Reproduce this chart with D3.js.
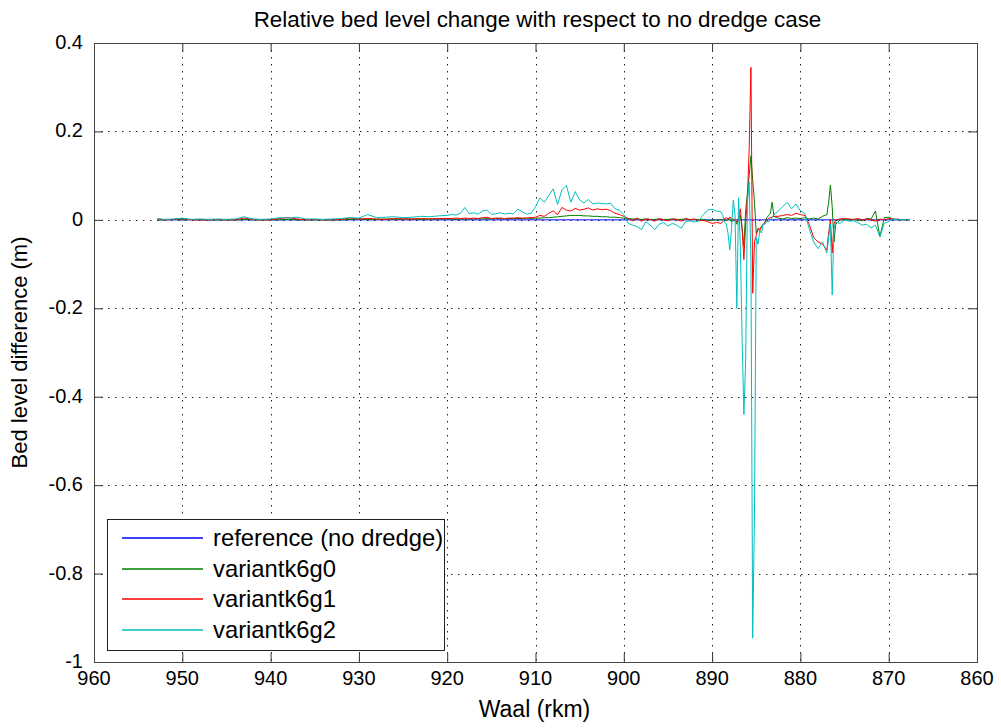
<!DOCTYPE html>
<html>
<head>
<meta charset="utf-8">
<script src="https://cdn.jsdelivr.net/npm/d3@7"></script>
<style>
    body { margin: 0; background: #fff; }
    svg text { font-family: "Liberation Sans", Arial, sans-serif; fill: #000; }
</style>
</head>
<body>
<div id="chart"></div>
<script>
// river km (Waal), shared by all series
var km = [
    952.8, 952, 951, 950, 949, 948, 947, 946, 945, 944, 943, 942, 941, 940, 939, 938, 937, 936, 935, 934,
    933, 932, 931, 930, 929, 928, 927, 926, 925, 924, 923, 922, 921,
    920, 919.5, 919, 918.5, 918, 917.5, 917, 916.5, 916, 915.5,
    915, 914.5, 914, 913.5, 913, 912.5, 912, 911.5, 911, 910.5,
    910, 909.5, 909, 908.5, 908, 907.5, 907, 906.5, 906, 905.5,
    905, 904.5, 904, 903.5, 903, 902.5, 902, 901.5, 901, 900.5,
    900, 899.5, 899, 898.5, 898, 897.5, 897, 896.5, 896, 895.5,
    895, 894.5, 894, 893.5, 893, 892.5, 892, 891.5, 891, 890.5,
    890, 889.5,
    889, 888.8, 888.6, 888.4, 888.2, 888, 887.8, 887.6, 887.4, 887.2,
    887, 886.8, 886.6, 886.4, 886.2, 886, 885.8, 885.6, 885.4, 885.2,
    885, 884.8, 884.6, 884.4, 884.2, 884, 883.8, 883.6, 883.4, 883.2, 883,
    882.5, 882, 881.5, 881, 880.5, 880, 879.5, 879, 878.5, 878,
    877.5, 877, 876.8, 876.6, 876.4, 876.2, 876, 875.5, 875, 874.5,
    874, 873.5, 873, 872.5, 872, 871.5, 871, 870.5, 870, 869.5,
    869, 868.5, 868, 867.6
];

var refValues = [
    0, 0, 0, 0, 0, 0, 0, 0, 0, 0, 0, 0, 0, 0, 0, 0, 0, 0, 0, 0,
    0, 0, 0, 0, 0, 0, 0, 0, 0, 0, 0, 0, 0, 0, 0, 0, 0, 0, 0, 0,
    0, 0, 0, 0, 0, 0, 0, 0, 0, 0, 0, 0, 0, 0, 0, 0, 0, 0, 0, 0,
    0, 0, 0, 0, 0, 0, 0, 0, 0, 0, 0, 0, 0, 0, 0, 0, 0, 0, 0, 0,
    0, 0, 0, 0, 0, 0, 0, 0, 0, 0, 0, 0, 0, 0, 0, 0, 0, 0, 0, 0,
    0, 0, 0, 0, 0, 0, 0, 0, 0, 0, 0, 0, 0, 0, 0, 0, 0, 0, 0, 0,
    0, 0, 0, 0, 0, 0, 0, 0, 0, 0, 0, 0, 0, 0, 0, 0, 0, 0, 0, 0,
    0, 0, 0, 0, 0, 0, 0, 0, 0, 0, 0, 0, 0, 0, 0, 0, 0, 0, 0, 0
];

var k6g0Values = [
    0, 0, 0.001, 0, 0.001, 0, 0, 0, 0, 0, 0.001, 0, 0, 0, 0, 0.001, 0, 0, 0, 0,
    0, 0, 0.001, 0.002, 0.001, 0.001, 0.002, 0.001, 0.002, 0.002, 0.001, 0.002, 0.002,
    0.002, 0.002, 0.001, 0.002, 0.002, 0.002, 0.002, 0.003, 0.002, 0.003,
    0.002, 0.003, 0.003, 0.002, 0.003, 0.003, 0.003, 0.003, 0.004, 0.003,
    0.004, 0.004, 0.005, 0.005, 0.006, 0.007, 0.008, 0.009, 0.01, 0.01,
    0.01, 0.009, 0.009, 0.008, 0.008, 0.007, 0.007, 0.006, 0.006, 0.005,
    0.004, 0.003, 0.002, 0.002, 0.001, 0.002, 0.001, 0.001, 0.002, 0.001,
    0.001, 0.002, 0.001, 0.001, 0.002, 0.001, 0.001, 0.001, 0, -0.001,
    -0.001, 0,
    0, 0, 0.002, -0.002, 0, 0.003, -0.005, 0.002, 0, -0.01,
    0.005, 0.01, -0.02, -0.06, 0.02, 0.06, 0.1, 0.145, 0.09, 0.04,
    -0.03, -0.02, -0.02, -0.015, -0.01, -0.005, 0.005, 0.01, 0.015, 0.04, 0.008,
    0.004, 0.002, 0.005, 0.003, 0.004, 0.003, 0.005, 0.002, 0.004, 0.002,
    0.008, 0.012, 0.04, 0.079, 0.03, -0.05, -0.01, 0, 0.001, 0,
    0.001, 0, -0.002, 0.003, 0.002, 0.02, -0.038, 0.005, 0.006, 0.002,
    0, 0.001, 0, 0
];

var k6g1Values = [
    0.002, 0, 0.001, 0.003, 0, 0, 0, 0.001, 0, 0, 0.004, 0.001, 0, 0, 0.003, 0.005, 0.002, 0, 0.001, 0,
    0, 0.001, 0.004, 0.002, 0.003, 0.002, 0.001, 0.003, 0.002, 0.002, 0.003, 0.002, 0.003,
    0.003, 0.003, 0.004, 0.003, 0.004, 0.003, 0.004, 0.003, 0.005, 0.006,
    0.003, 0.004, 0.004, 0.003, 0.004, 0.004, 0.005, 0.004, 0.004, 0.005,
    0.006, 0.01, 0.008, 0.015, 0.02, 0.012, 0.028, 0.022, 0.02, 0.026,
    0.022, 0.024, 0.027, 0.022, 0.025, 0.023, 0.024, 0.021, 0.015, 0.012,
    0.008, 0.003, -0.002, 0.004, -0.003, 0.002, 0.001, -0.003, 0.003, 0,
    -0.002, 0.002, 0.001, -0.003, 0.003, 0, 0.002, -0.002, -0.001, -0.004,
    -0.008, -0.006,
    -0.008, -0.004, 0.003, 0.005, 0.002, 0.006, 0.004, -0.003, 0.002, -0.005,
    0.002, 0.025, -0.02, -0.09, -0.01, 0.05, 0.16, 0.345, -0.166, -0.05,
    -0.035, -0.02, -0.025, -0.015, -0.01, -0.005, 0, 0.003, 0.005, 0.006, 0.008,
    0.008, 0.01, 0.012, 0.01, 0.015, 0.012, 0.01, -0.01, -0.04, -0.05,
    -0.055, -0.068, -0.03, 0, -0.075, -0.01, 0, 0.002, 0.003, 0.002,
    0.001, 0.003, 0, 0.002, 0, -0.003, 0.002, 0, 0.003, 0.001,
    0.002, 0, 0.001, 0
];

var k6g2Values = [
    0.003, 0.001, 0.002, 0.004, 0.001, 0.002, 0.001, 0.002, 0.001, 0.002, 0.007, 0.002, 0.001, 0.002, 0.005, 0.004, 0.006, 0.002, 0.002, 0.001,
    0.002, 0.003, 0.005, 0.004, 0.012, 0.005, 0.006, 0.007, 0.005, 0.006, 0.008, 0.007, 0.009,
    0.01, 0.012, 0.011, 0.015, 0.028, 0.014, 0.016, 0.013, 0.02, 0.022,
    0.012, 0.014, 0.016, 0.013, 0.015, 0.014, 0.024, 0.018, 0.013, 0.015,
    0.03, 0.05, 0.04, 0.055, 0.07, 0.035, 0.068, 0.078, 0.04, 0.064,
    0.045, 0.038, 0.046, 0.036, 0.038, 0.037, 0.036, 0.038, 0.025, 0.022,
    0.012, -0.008, -0.012, -0.015, -0.022, -0.004, -0.012, -0.022, -0.01, -0.006,
    -0.014, -0.008, -0.012, -0.019, -0.004, -0.002, -0.005, -0.002, 0.012, 0.022,
    0.024, 0.02,
    0.018, 0.01, -0.005, -0.01, -0.03, -0.068, -0.02, 0.045, 0.01, -0.2,
    0.05, -0.06, -0.27, -0.44, -0.32, 0.04, 0.085, -0.1, -0.946, -0.665,
    -0.04, -0.055, -0.025, -0.03, -0.008, -0.01, -0.003, -0.005, 0, 0.005, 0.012,
    0.02, 0.03, 0.04, 0.025, 0.036, 0.02, 0.015, -0.02, -0.05, -0.065,
    -0.05, -0.075, -0.04, -0.01, -0.17, -0.02, -0.005, -0.008, 0, -0.003,
    -0.002, -0.006, -0.012, -0.01, -0.018, -0.012, -0.038, -0.008, -0.004, 0.002,
    0, 0.001, 0, 0.001
];

var seriesNames = ["reference (no dredge)", "variantk6g0", "variantk6g1", "variantk6g2"];
var seriesColors = ["#0000ff", "#008000", "#ff0000", "#00bfbf"];
var xTicks = [960, 950, 940, 930, 920, 910, 900, 890, 880, 870, 860];
var yTicks = [-1, -0.8, -0.6, -0.4, -0.2, 0, 0.2, 0.4];

( function(d3) {
    var width = 1001,
        height = 728,
        margin = { top: 43, right: 24, bottom: 66, left: 94 };

    var svg = d3.select("#chart").append("svg")
        .attr("width", width)
        .attr("height", height);

    var x = d3.scaleLinear().domain([960, 860]).range([margin.left, width - margin.right]),
        y = d3.scaleLinear().domain([-1, 0.4]).range([height - margin.bottom, margin.top]);

    var x0 = x.range()[0], x1 = x.range()[1],
        y0 = y.range()[0], y1 = y.range()[1];

    // dotted grid
    var grid = svg.append("g").attr("class", "grid");
    grid.selectAll("line.gx")
        .data(xTicks.slice(1, -1))
        .enter().append("line")
        .attr("x1", function(d) { return Math.round(x(d)) + 0.5; })
        .attr("x2", function(d) { return Math.round(x(d)) + 0.5; })
        .attr("y1", y1).attr("y2", y0);
    grid.selectAll("line.gy")
        .data(yTicks.slice(1, -1))
        .enter().append("line")
        .attr("y1", function(d) { return Math.round(y(d)) + 0.5; })
        .attr("y2", function(d) { return Math.round(y(d)) + 0.5; })
        .attr("x1", x0).attr("x2", x1);
    grid.selectAll("line")
        .style("stroke", "#222")
        .style("stroke-width", 1)
        .style("stroke-dasharray", "1.5,5.5");

    // lines
    svg.append("clipPath").attr("id", "plot-clip")
        .append("rect")
        .attr("x", x0).attr("y", y1)
        .attr("width", x1 - x0).attr("height", y0 - y1);

    var allValues = [refValues, k6g0Values, k6g1Values, k6g2Values];
    var line = d3.line()
        .x(function(d) { return x(d[0]); })
        .y(function(d) { return y(d[1]); });

    svg.append("g")
        .attr("clip-path", "url(#plot-clip)")
        .selectAll("path")
        .data(allValues)
        .enter().append("path")
        .attr("d", function(vals) {
            return line(km.map(function(k, i) { return [k, vals[i]]; }));
        })
        .style("fill", "none")
        .style("stroke", function(d, i) { return seriesColors[i]; })
        .style("stroke-width", 1);

    // axes (MATLAB style: ticks inside, box around)
    var fmt = function(d) { return String(+d.toFixed(1)); };
    var tickLen = 9;

    svg.append("g")
        .attr("transform", "translate(0," + y0 + ")")
        .call(d3.axisTop(x).tickValues(xTicks).tickSize(tickLen).tickFormat(""))
        .call(function(g) { g.select(".domain").remove(); });
    svg.append("g")
        .attr("transform", "translate(0," + y1 + ")")
        .call(d3.axisBottom(x).tickValues(xTicks).tickSize(tickLen).tickFormat(""))
        .call(function(g) { g.select(".domain").remove(); });
    svg.append("g")
        .attr("transform", "translate(" + x0 + ",0)")
        .call(d3.axisRight(y).tickValues(yTicks).tickSize(tickLen).tickFormat(""))
        .call(function(g) { g.select(".domain").remove(); });
    svg.append("g")
        .attr("transform", "translate(" + x1 + ",0)")
        .call(d3.axisLeft(y).tickValues(yTicks).tickSize(tickLen).tickFormat(""))
        .call(function(g) { g.select(".domain").remove(); });
    svg.selectAll(".tick line").style("stroke", "#333");

    svg.append("rect")
        .attr("x", x0 + 0.5).attr("y", y1 + 0.5)
        .attr("width", x1 - x0).attr("height", y0 - y1)
        .style("fill", "none")
        .style("stroke", "#444")
        .style("stroke-width", 1);

    // tick labels
    svg.append("g").selectAll("text")
        .data(xTicks)
        .enter().append("text")
        .attr("x", function(d) { return x(d); })
        .attr("y", y0 + 23)
        .attr("text-anchor", "middle")
        .style("font-size", "20px")
        .text(fmt);
    svg.append("g").selectAll("text")
        .data(yTicks)
        .enter().append("text")
        .attr("x", x0 - 11)
        .attr("y", function(d) { return y(d) + 6; })
        .attr("text-anchor", "end")
        .style("font-size", "20px")
        .text(fmt);

    // labels
    svg.append("text")
        .attr("x", (x0 + x1) / 2 + 2).attr("y", 27)
        .attr("text-anchor", "middle")
        .style("font-size", "22.4px")
        .text("Relative bed level change with respect to no dredge case");
    svg.append("text")
        .attr("x", (x0 + x1) / 2 - 1).attr("y", 717)
        .attr("text-anchor", "middle")
        .style("font-size", "23px")
        .text("Waal (rkm)");
    svg.append("text")
        .attr("transform", "translate(27," + ((y0 + y1) / 2) + ") rotate(-90)")
        .attr("text-anchor", "middle")
        .style("font-size", "22px")
        .text("Bed level difference (m)");

    // legend
    var legend = svg.append("g").attr("transform", "translate(107,519)");
    legend.append("rect")
        .attr("x", 0.5).attr("y", 0.5)
        .attr("width", 337).attr("height", 131)
        .style("fill", "#fff")
        .style("stroke", "#222");
    var rows = legend.selectAll("g.row")
        .data(seriesNames)
        .enter().append("g")
        .attr("transform", function(d, i) { return "translate(0," + Math.round(19 + i * 30.5) + ")"; });
    // sample line sits on a pixel edge so it is spread over two rows, as in the original
    rows.append("line")
        .attr("x1", 15).attr("x2", 96)
        .attr("y1", 0).attr("y2", 0)
        .style("stroke", function(d) { return seriesColors[seriesNames.indexOf(d)]; })
        .style("stroke-width", 1.3);
    rows.append("text")
        .attr("x", 106).attr("y", 8)
        .style("font-size", "23.8px")
        .text(function(d) { return d; });
})(d3);
</script>
</body>
</html>
